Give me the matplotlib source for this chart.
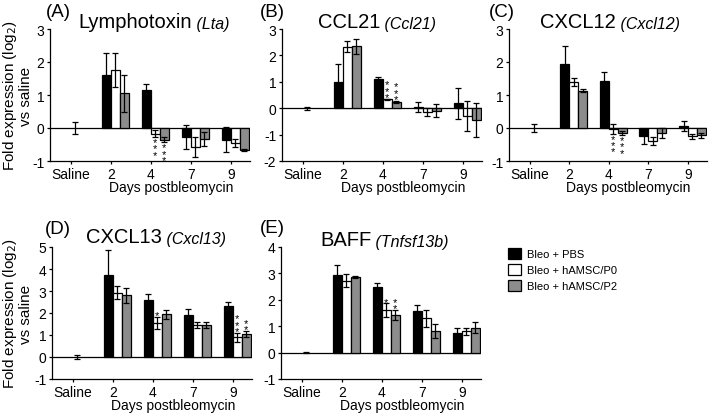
import numpy as np
import matplotlib
matplotlib.use('Agg')
import matplotlib.pyplot as plt
from matplotlib.patches import Patch

plt.rcParams['font.family'] = ['Liberation Sans', 'DejaVu Sans']
plt.rcParams['axes.unicode_minus'] = False

groups = ['Saline', '2', '4', '7', '9']
series = ['Bleo + PBS', 'Bleo + hAMSC/P0', 'Bleo + hAMSC/P2']
colors = ['black', 'white', '#8c8c8c']

# (A) Lymphotoxin (Lta): rows = PBS, P0, P2; cols = day 2, 4, 7, 9
lta_saline = (0.0, 0.18)
lta_mean = [[1.62, 1.15, -0.27, -0.35], [1.76, -0.17, -0.58, -0.45], [1.05, -0.35, -0.33, -0.68]]
lta_err = [[0.66, 0.19, 0.36, 0.37], [0.52, 0.10, 0.31, 0.12], [0.57, 0.08, 0.22, 0.03]]
lta_stars = [(1, 1, 3), (1, 2, 3)]  # (day index, series, count)

# (B) CCL21
ccl21_saline = (0.0, 0.06)
ccl21_mean = [[1.00, 1.10, 0.05, 0.18], [2.33, 0.33, -0.13, -0.30], [2.35, 0.25, -0.10, -0.45]]
ccl21_err = [[0.66, 0.10, 0.20, 0.58], [0.22, 0.03, 0.15, 0.57], [0.28, 0.04, 0.25, 0.65]]
ccl21_stars = [(1, 1, 3), (1, 2, 3)]

# (C) CXCL12
cxcl12_saline = (0.0, 0.12)
cxcl12_mean = [[1.93, 1.42, -0.25, 0.05], [1.40, -0.02, -0.38, -0.25], [1.13, -0.15, -0.15, -0.22]]
cxcl12_err = [[0.57, 0.27, 0.22, 0.15], [0.12, 0.15, 0.12, 0.08], [0.05, 0.06, 0.15, 0.08]]
cxcl12_stars = [(1, 1, 3), (1, 2, 3)]

# (D) CXCL13
cxcl13_saline = (0.0, 0.10)
cxcl13_mean = [[3.75, 2.60, 1.90, 2.30], [2.93, 1.55, 1.45, 0.90], [2.80, 1.95, 1.45, 1.05]]
cxcl13_err = [[1.12, 0.28, 0.28, 0.20], [0.28, 0.28, 0.15, 0.20], [0.33, 0.20, 0.15, 0.15]]
cxcl13_stars = [(1, 1, 1), (3, 1, 3), (3, 2, 2)]

# (E) BAFF
baff_saline = (0.0, 0.03)
baff_mean = [[2.95, 2.50, 1.58, 0.75], [2.73, 1.60, 1.30, 0.80], [2.88, 1.42, 0.82, 0.95]]
baff_err = [[0.38, 0.15, 0.24, 0.17], [0.25, 0.27, 0.33, 0.12], [0.04, 0.20, 0.25, 0.20]]
baff_stars = [(1, 1, 1), (1, 2, 2)]

W, H = 709, 414
fig = plt.figure(figsize=(W / 100, H / 100), dpi=100)


def fx(x):
    return x / W


def fy(y):
    return 1 - y / H


def panel(box, letter, name, gene, saline, means, errs, stars, ylim, letter_xy, title_xy):
    l, t, r, b = box
    ax = fig.add_axes([fx(l), fy(b), (r - l) / W, (b - t) / H])
    w = 0.225
    x = np.arange(1, 5)
    for i in range(3):
        xi = x + (i - 0.5) * w
        ax.bar(xi, means[i], w, color=colors[i], edgecolor='black', linewidth=0.9, zorder=2)
        ax.errorbar(xi, means[i], yerr=errs[i], fmt='none', ecolor='black',
                    elinewidth=0.9, capsize=2, capthick=0.9, zorder=3)
    ax.errorbar([0.5 * w], [saline[0]], yerr=[saline[1]], fmt='none', ecolor='black',
                elinewidth=0.9, capsize=2, capthick=0.9, zorder=3)
    for d, s, n in stars:
        m, e = means[s][d], errs[s][d]
        xs = x[d] + (s - 0.5) * w
        txt = '\n'.join(['*'] * n)
        if m < 0:
            ax.text(xs, m - e, txt, ha='center', va='top', fontsize=8,
                    linespacing=0.55, zorder=4)
        else:
            ax.annotate(txt, (xs, m + e), xytext=(0, -2.5), textcoords='offset points',
                        ha='center', va='bottom', fontsize=8, linespacing=0.55, zorder=4)
    ax.axhline(0, color='black', lw=0.9, zorder=1)
    ax.set_xlim(-0.52, 4.48)
    ax.set_ylim(*ylim)
    ax.set_yticks(range(ylim[0], ylim[1] + 1))
    ax.set_xticks(range(5))
    ax.set_xticklabels(groups)
    for sp in ['top', 'right']:
        ax.spines[sp].set_visible(False)
    for sp in ['left', 'bottom']:
        ax.spines[sp].set_linewidth(0.9)
    ax.tick_params(axis='y', length=2.2, width=0.9, pad=2, labelsize=10)
    ax.tick_params(axis='x', length=2.2, width=0.9, pad=2, labelsize=10)
    ax.text(2.5, -30.5 / (b - t), 'Days postbleomycin', transform=ax.get_xaxis_transform(),
            ha='center', va='baseline', fontsize=10)
    fig.text(fx(letter_xy[0]), fy(letter_xy[1]), letter, fontsize=13.5, va='baseline')
    tt = fig.text(fx(title_xy[0]), fy(title_xy[1]), name, fontsize=14.5, va='baseline')
    plt.annotate(' ' + gene, xy=(1, 0), xycoords=tt, va='bottom', ha='left',
                 fontsize=11.5, style='italic', annotation_clip=False)
    return ax


panel((50, 30, 250, 162), '(A)', 'Lymphotoxin', '(Lta)', lta_saline, lta_mean, lta_err,
      lta_stars, (-1, 3), (46, 17), (78, 28))
panel((282, 30, 482, 162), '(B)', 'CCL21', '(Ccl21)', ccl21_saline, ccl21_mean, ccl21_err,
      ccl21_stars, (-2, 3), (260, 17), (318, 28))
panel((509, 30, 707, 162), '(C)', 'CXCL12', '(Cxcl12)', cxcl12_saline, cxcl12_mean, cxcl12_err,
      cxcl12_stars, (-1, 3), (489, 17), (540, 28))
panel((52, 248, 252, 380), '(D)', 'CXCL13', '(Cxcl13)', cxcl13_saline, cxcl13_mean, cxcl13_err,
      cxcl13_stars, (-1, 5), (45, 234), (86, 243))
panel((281, 248, 481, 380), '(E)', 'BAFF', '(Tnfsf13b)', baff_saline, baff_mean, baff_err,
      baff_stars, (-1, 4), (260, 233), (320, 246))

ylab = 'Fold expression (log$_2$)\nvs saline'
fig.text(fx(17), fy(96), ylab, rotation=90, ha='center', va='center', fontsize=11,
         multialignment='center', linespacing=1.0)
fig.text(fx(17), fy(314), ylab, rotation=90, ha='center', va='center', fontsize=11,
         multialignment='center', linespacing=1.0)

handles = [Patch(facecolor=c, edgecolor='black', linewidth=0.9) for c in colors]
fig.legend(handles, series, loc='upper left', bbox_to_anchor=(fx(508), fy(249)),
           frameon=False, fontsize=8, handlelength=1.2, handleheight=1.1,
           labelspacing=0.45, handletextpad=0.5, borderpad=0, borderaxespad=0)

fig.savefig('out.png', dpi=100)
